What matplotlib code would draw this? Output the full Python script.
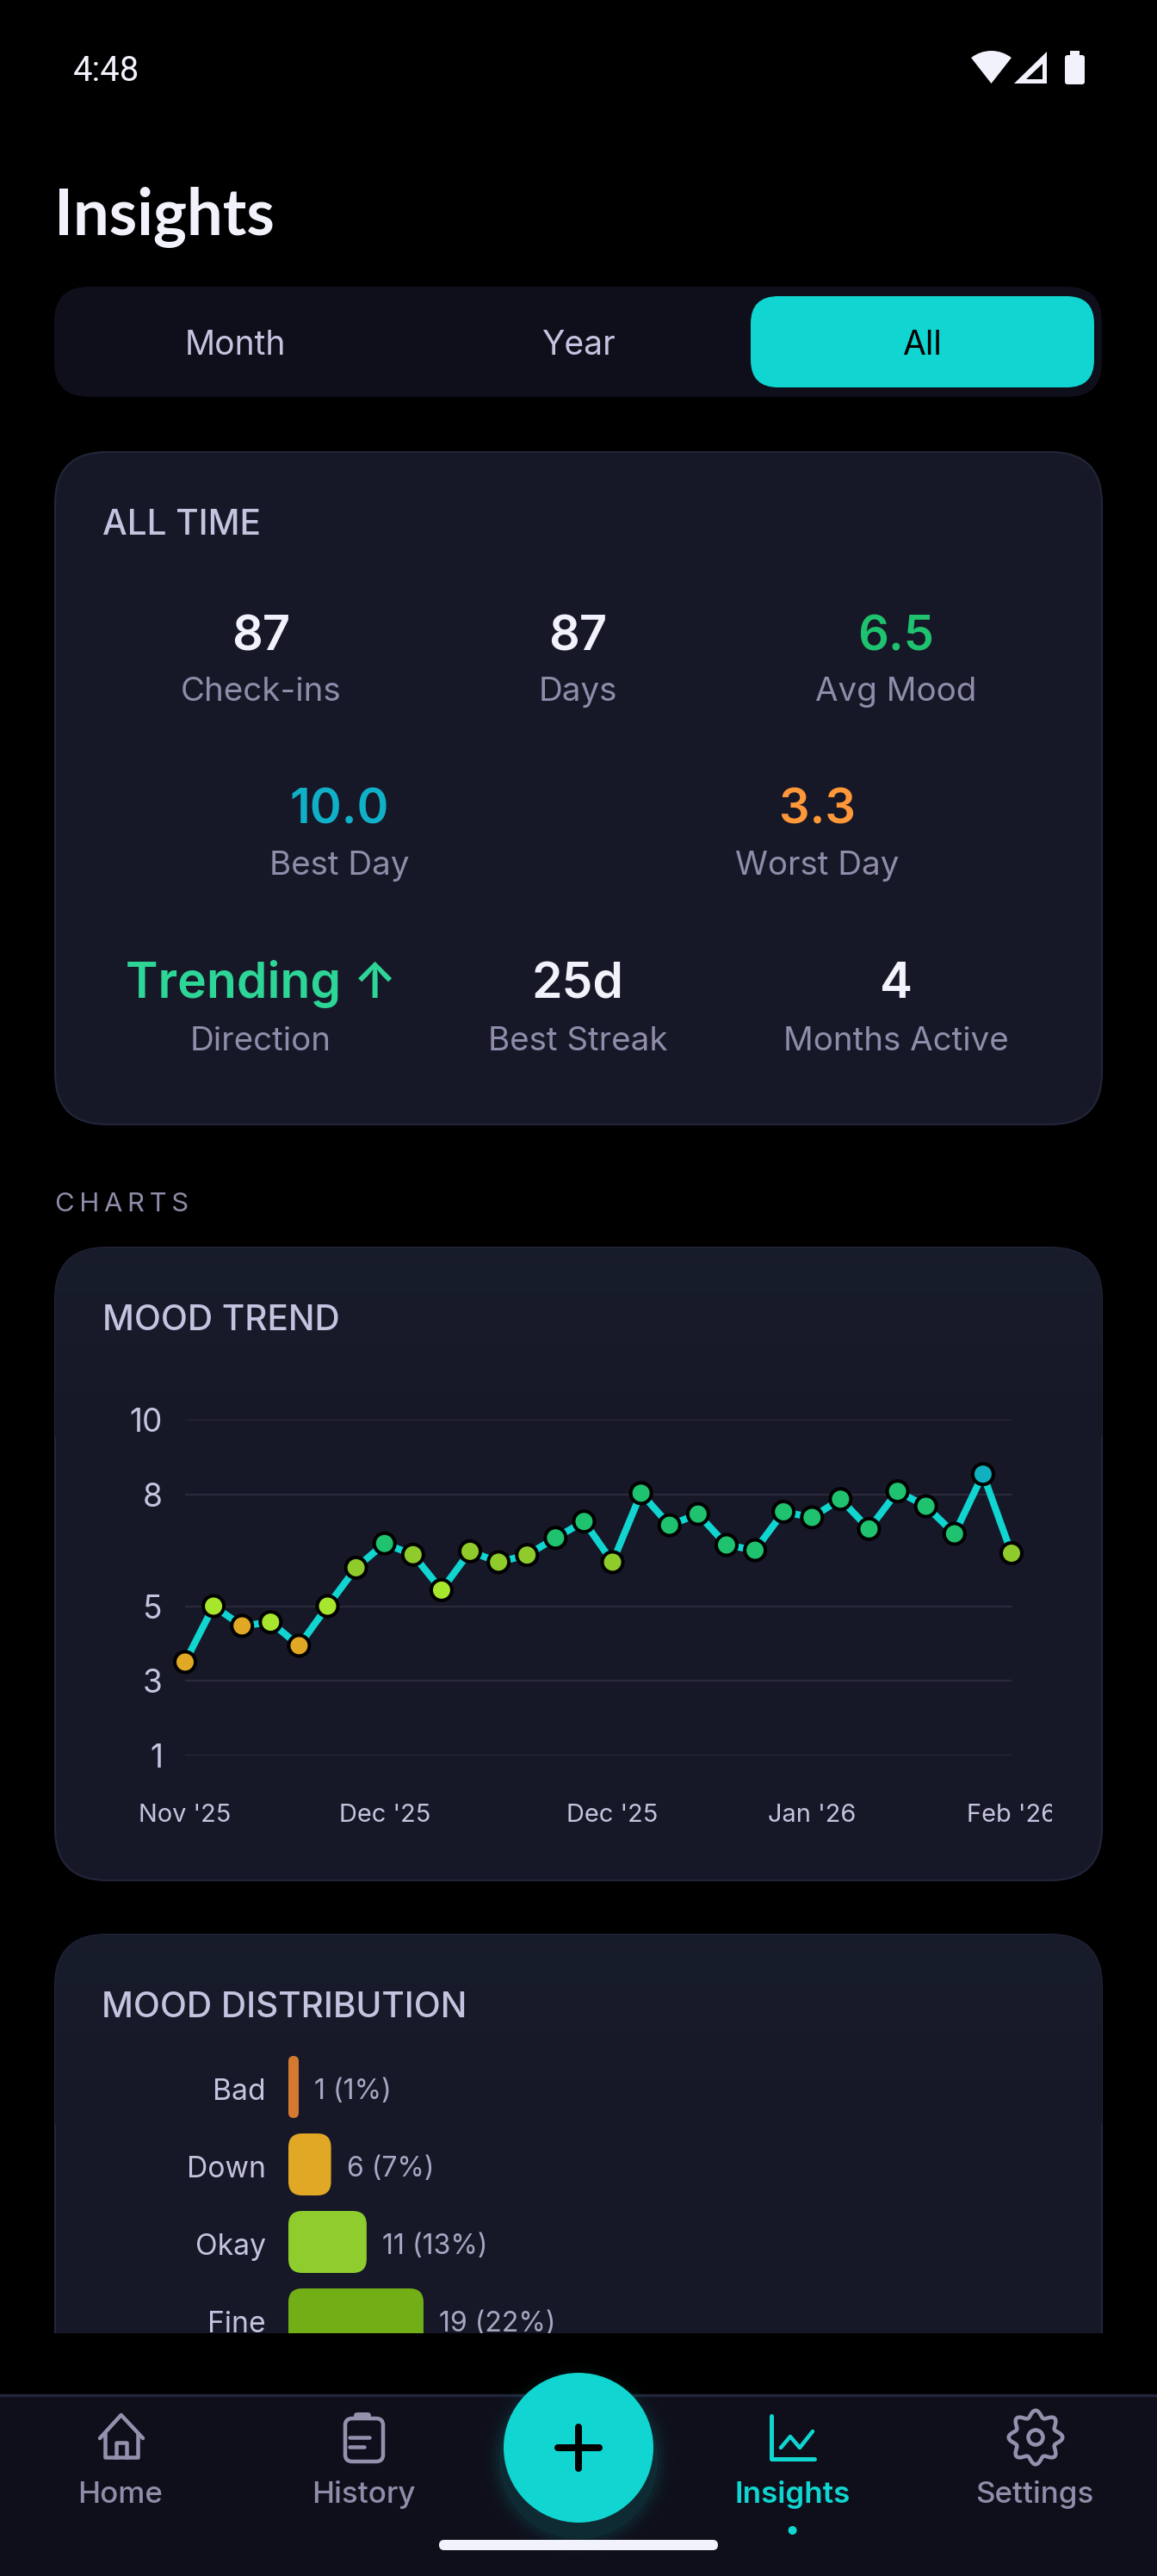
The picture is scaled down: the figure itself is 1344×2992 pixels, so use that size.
import numpy as np
import matplotlib
matplotlib.use('Agg')
import matplotlib.pyplot as plt
from matplotlib.patches import FancyBboxPatch, Circle, Polygon, Wedge, Rectangle
from matplotlib.transforms import Bbox

# Chart data
mood_values = [3.5, 5.0, 4.47, 4.57, 3.94, 5.0, 6.03, 6.68, 6.38, 5.43,
               6.47, 6.18, 6.37, 6.83, 7.27, 6.18, 8.03, 7.17, 7.47, 6.64,
               6.5, 7.53, 7.38, 7.87, 7.07, 8.08, 7.68, 6.94, 8.54, 6.42]
x_tick_idx = [0, 7, 15, 22, 29]
x_tick_labels = ["Nov '25", "Dec '25", "Dec '25", "Jan '26", "Feb '26"]
y_ticks = [1, 3, 5, 8, 10]

dist_labels = ['Bad', 'Down', 'Okay', 'Fine']
dist_counts = [1, 6, 11, 19]
dist_pct = ['1 (1%)', '6 (7%)', '11 (13%)', '19 (22%)']
dist_colors = ['#D47A30', '#E0A825', '#8FCC2E', '#72AF17']

tabs = ['Month', 'Year', 'All']
row1_values = ['87', '87', '6.5']
row1_labels = ['Check-ins', 'Days', 'Avg Mood']
row2_values = ['10.0', '3.3']
row2_labels = ['Best Day', 'Worst Day']
row3_values = ['Trending ↑', '25d', '4']
row3_labels = ['Direction', 'Best Streak', 'Months Active']
nav_labels = ['Home', 'History', 'Insights', 'Settings']

# Colours
TEAL = '#10D5D0'
CARD = '#171827'
EDGE = '#23253A'
PANEL = '#0E0F1A'
WHITE = '#F2F2FC'
SOFT = '#C5C4E0'
MUTED = '#8E8DAA'
FONT = ['Inter', 'DejaVu Sans']

W, H = 1344, 2992
fig = plt.figure(figsize=(W / 100, H / 100), dpi=100, facecolor='black')

# Background axes in pixel coordinates, y going down
bg = fig.add_axes([0, 0, 1, 1])
bg.set_xlim(0, W)
bg.set_ylim(H, 0)
bg.axis('off')


def px(size):
    return size * 0.72


def label(x, y, s, size, color, weight='normal', ha='center', family=None):
    return bg.text(x, y, s, fontsize=px(size), color=color, fontweight=weight, ha=ha,
                   va='baseline', family=family or FONT, zorder=10)


def rounded(x0, y0, x1, y1, r, fc, ec='none', lw=0, z=1):
    p = FancyBboxPatch((x0, y0), x1 - x0, y1 - y0, boxstyle=f'round,pad=0,rounding_size={r}',
                       fc=fc, ec=ec, lw=lw, zorder=z)
    bg.add_patch(p)
    return p


def card(x0, y0, x1, y1, r=60, top='#171C2B'):
    p = rounded(x0, y0, x1, y1, r, CARD, EDGE, 1.5)
    # slight lighter tint at the top of chart cards
    c0 = np.array(matplotlib.colors.to_rgb(top))
    c1 = np.array(matplotlib.colors.to_rgb(CARD))
    t = np.linspace(0, 1, 64).reshape(-1, 1, 1)
    img = bg.imshow(c0 * (1 - t) + c1 * t, extent=(x0, x1, y0 + 220, y0), aspect='auto', zorder=1.1)
    img.set_clip_path(p)
    bg.set_xlim(0, W)
    bg.set_ylim(H, 0)
    return p


def mood_color(v):
    if v < 4.5:
        return '#E0A825'
    if v < 6.0:
        return '#A8E62E'
    if v < 6.5:
        return '#8FCB2B'
    if v < 8.3:
        return '#1FC26E'
    return '#10B0C0'


# Status bar
label(85, 94, '4:48', 40, WHITE, ha='left', family=['Roboto', 'DejaVu Sans'])
bg.add_patch(Wedge((1151.5, 97), 38, 232, 308, fc=WHITE, ec='none'))
bg.add_patch(Polygon([(1216, 60), (1216, 97), (1178, 97)], fc=WHITE, ec='none'))
bg.add_patch(Polygon([(1211, 74), (1211, 92), (1192, 92)], fc='black', ec='none'))
rounded(1237, 64, 1260, 98, 3, WHITE)
bg.add_patch(Rectangle((1243, 59), 11, 7, fc=WHITE, ec='none'))

# Title
label(63, 273, 'Insights', 74, WHITE, 'bold', ha='left', family=['Lato', 'DejaVu Sans'])

# Period selector
rounded(63, 333, 1280, 461, 40, PANEL)
rounded(872, 344, 1271, 450, 32, TEAL, z=2)
for tx, s, col in zip([273, 672, 1071], tabs, [SOFT, SOFT, 'black']):
    label(tx, 412, s, 39, col)

# All time card
rounded(64, 525, 1280, 1306, 60, CARD, EDGE, 1.5)
label(119, 621, 'ALL TIME', 40.5, SOFT, 500, ha='left')

col3 = [303, 671, 1041]
for tx, v, s, c in zip(col3, row1_values, row1_labels, [WHITE, WHITE, '#1FC26E']):
    label(tx, 755, v, 56, c, 600)
    label(tx, 814, s, 38.5, MUTED)
for tx, v, s, c in zip([394.5, 949], row2_values, row2_labels, ['#0FB0C8', '#FF9838']):
    label(tx, 956, v, 56, c, 600)
    label(tx, 1016, s, 38.5, MUTED)
for tx, v, s, c in zip(col3, row3_values, row3_labels, ['#2DD597', WHITE, WHITE]):
    label(tx, 1159, v, 57, c, 600)
    label(tx, 1220, s, 38.5, MUTED)

label(64, 1407, 'C\u2009H\u2009A\u2009R\u2009T\u2009S', 31, MUTED, ha='left')

# Mood trend card
card(64, 1449, 1280, 2184)
label(119, 1545, 'MOOD TREND', 40.5, SOFT, 500, ha='left')

ax = fig.add_axes([215 / W, 1 - 2038.7 / H, 960 / W, 389.7 / H])
ax.patch.set_visible(False)
ax.set_xlim(0, 29)
ax.set_ylim(1, 10)
xs = np.arange(len(mood_values))
ax.set_yticks(y_ticks)
ax.set_xticks(x_tick_idx)
ax.set_xticklabels(x_tick_labels)
ax.grid(axis='y', color='#2A2A3C', lw=1.5)
ax.grid(axis='x', visible=False)
ax.set_axisbelow(True)
for s in ax.spines.values():
    s.set_visible(False)
ax.tick_params(axis='y', length=0, pad=px(26), labelsize=px(37), labelcolor=SOFT)
ax.tick_params(axis='x', length=0, pad=px(56), labelsize=px(29), labelcolor=SOFT)
for t in ax.get_xticklabels() + ax.get_yticklabels():
    t.set_family(FONT)
ax.plot(xs, mood_values, color=TEAL, lw=px(8), solid_joinstyle='miter', clip_on=False, zorder=3)
ax.scatter(xs, mood_values, s=px(24) ** 2, c=[mood_color(v) for v in mood_values],
           edgecolors='black', linewidths=px(4), clip_on=False, zorder=4)
# last x label is cut by the chart's right edge
last = ax.get_xticklabels()[-1]
last.set_clip_on(True)
last.set_clip_box(Bbox([[0, 0], [1222, H]]))

# Mood distribution card, cut by the scroll area
card(64, 2247, 1280, 2800)
bg.add_patch(Rectangle((0, 2710), W, 90, fc='black', ec='none', zorder=2))
label(118, 2343, 'MOOD DISTRIBUTION', 40.5, SOFT, 500, ha='left')

unit = 8.26  # px per check-in
row_h = 90
ax2 = fig.add_axes([119 / W, 1 - 2710 / H, 1105 / W, 331 / H])
ax2.patch.set_visible(False)
ax2.axis('off')
ax2.set_xlim((119 - 335) / unit, (1224 - 335) / unit)
ax2.set_ylim((2710 - 2424) / row_h, (2379 - 2424) / row_h)
bar_w = np.maximum(dist_counts, 1.45)
for i, (w, c) in enumerate(zip(bar_w, dist_colors)):
    r = min(16 / unit, w / 2)
    ax2.add_patch(FancyBboxPatch((0, i - 0.4), w, 0.8, boxstyle=f'round,pad=0,rounding_size={r}',
                                 mutation_aspect=unit / row_h, fc=c, ec='none'))
    ax2.text(-26 / unit, i + 0.025, dist_labels[i], fontsize=px(33.6), color=SOFT, ha='right',
             va='center_baseline', family=FONT, clip_on=True)
    ax2.text(w + 18 / unit, i + 0.025, dist_pct[i], fontsize=px(32), color='#A8A8C4', ha='left',
             va='center_baseline', family=FONT, clip_on=True)

# Bottom navigation
bg.add_patch(Rectangle((0, 2782), W, H - 2782, fc=PANEL, ec='none', zorder=3))
bg.plot([0, W], [2782, 2782], color=EDGE, lw=2.5, zorder=3.1)

# soft glow under the add button
glow_r = [92, 96, 100, 104, 108, 112, 116, 120]
glow_a = [0.05, 0.04, 0.03, 0.02, 0.012, 0.008, 0.005, 0.003]
for r, a in zip(glow_r, glow_a):
    bg.add_patch(Circle((672, 2857), r, fc=TEAL, ec='none', alpha=a, zorder=4))
bg.add_patch(Circle((672, 2843), 87, fc=TEAL, ec='none', zorder=5))
bg.plot([648, 696], [2843, 2843], color='black', lw=px(8), solid_capstyle='round', zorder=6)
bg.plot([672, 672], [2819, 2867], color='black', lw=px(8), solid_capstyle='round', zorder=6)

ICON = '#9391AE'
lw_i = px(4.5)
# Home
bg.plot([116, 140.7, 166], [2832, 2805, 2832], color=ICON, lw=lw_i, solid_capstyle='round',
        solid_joinstyle='round', zorder=6)
bg.plot([122, 122, 160, 160], [2826, 2854, 2854, 2826], color=ICON, lw=lw_i, solid_capstyle='round',
        solid_joinstyle='round', zorder=6)
bg.plot([135, 135, 147, 147], [2854, 2837, 2837, 2854], color=ICON, lw=lw_i, zorder=6)
# History
rounded(401, 2809, 445, 2859, 8, 'none', ICON, lw_i, z=6)
rounded(411, 2802, 431, 2810, 4, ICON, z=6)
bg.plot([406, 429], [2831, 2831], color=ICON, lw=px(4.5), solid_capstyle='round', zorder=6)
bg.plot([406, 423], [2842, 2842], color=ICON, lw=px(4.5), solid_capstyle='round', zorder=6)
# Insights
bg.plot([896, 896, 946], [2806, 2856, 2856], color=TEAL, lw=px(5), solid_capstyle='round',
        solid_joinstyle='round', zorder=6)
bg.plot([907, 918, 929, 944], [2843, 2830, 2843, 2824], color=TEAL, lw=px(4.5), solid_capstyle='round',
        solid_joinstyle='round', zorder=6)
# Settings gear
ang = np.linspace(0, 2 * np.pi, 241)
rad = 27.5 + 3.8 * np.cos(8 * ang)
bg.add_patch(Polygon(np.c_[1203 + rad * np.cos(ang), 2831 + rad * np.sin(ang)], closed=True,
                     fc='none', ec=ICON, lw=lw_i, joinstyle='round', zorder=6))
bg.add_patch(Circle((1203, 2831), 8.5, fc='none', ec=ICON, lw=lw_i, zorder=6))

for tx, s, c, w in zip([140, 422.6, 920.6, 1201.7], nav_labels, [MUTED, MUTED, TEAL, MUTED], [500, 500, 600, 500]):
    t = label(tx, 2907, s, 35, c, w)
bg.add_patch(Circle((920.6, 2939), 5, fc=TEAL, ec='none', zorder=6))
rounded(510, 2950, 834, 2962, 6, WHITE, z=7)

fig.savefig('out.png', dpi=100, facecolor='black')
